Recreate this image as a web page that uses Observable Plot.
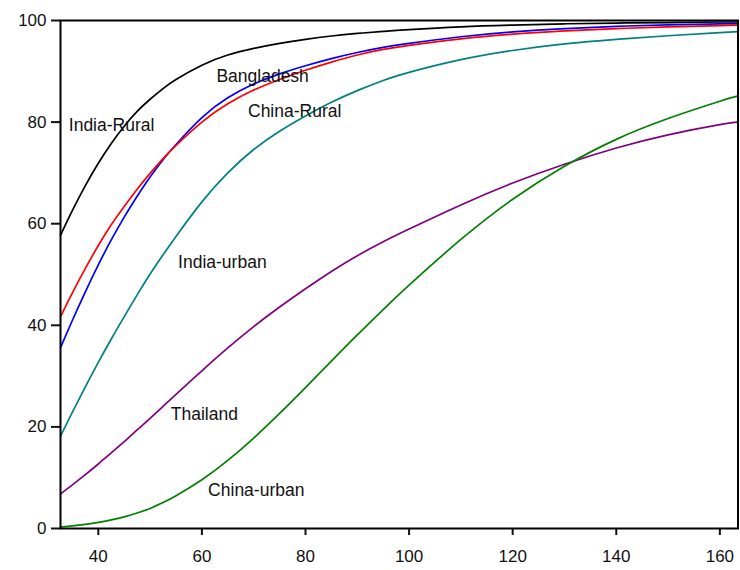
<!DOCTYPE html>
<html>
<head>
<meta charset="utf-8">
<script src="https://cdn.jsdelivr.net/npm/d3@7"></script>
<script src="https://cdn.jsdelivr.net/npm/@observablehq/plot@0.6"></script>
<style>
  body { margin: 0; background: #fff; }
  #chart svg { display: block; }
</style>
</head>
<body>
<div id="chart"></div>
<script>
// Cumulative share (%) against the threshold value, one curve per group
const xValues = [32.7, 35, 37.5, 40, 42.5, 45, 47.5, 50, 52.5, 55, 60, 65, 70, 75, 80, 85, 90, 95, 100, 110, 120, 130, 140, 150, 160, 163.5];

const indiaRural = [57.7, 62.6, 67.5, 71.9, 75.8, 79.2, 82.1, 84.5, 86.6, 88.4, 91.2, 93.2, 94.5, 95.5, 96.3, 96.95, 97.45, 97.85, 98.2, 98.75, 99.1, 99.35, 99.5, 99.6, 99.7, 99.7];
const bangladesh = [35.6, 41.0, 46.6, 51.9, 56.8, 61.3, 65.4, 69.2, 72.6, 75.6, 80.9, 84.8, 87.5, 89.5, 91.1, 92.5, 93.7, 94.7, 95.5, 96.8, 97.75, 98.4, 98.85, 99.15, 99.35, 99.4];
const chinaRural = [41.7, 46.4, 51.2, 55.7, 59.8, 63.4, 66.8, 69.9, 72.8, 75.4, 80.0, 83.6, 86.3, 88.4, 90.2, 91.8, 93.2, 94.3, 95.1, 96.4, 97.3, 97.95, 98.4, 98.75, 99.0, 99.1];
const indiaUrban = [18.2, 22.9, 27.9, 32.7, 37.3, 41.7, 46.0, 50.1, 53.9, 57.5, 64.3, 70.0, 74.6, 78.2, 81.2, 83.9, 86.2, 88.2, 89.8, 92.3, 94.1, 95.4, 96.3, 97.0, 97.6, 97.8];
const thailand   = [6.8, 8.6, 10.6, 12.7, 14.9, 17.1, 19.4, 21.7, 24.05, 26.4, 31.05, 35.55, 39.75, 43.6, 47.2, 50.6, 53.7, 56.45, 58.95, 63.7, 68.0, 71.7, 74.9, 77.5, 79.5, 80.0];
const chinaUrban = [0.3, 0.53, 0.83, 1.2, 1.7, 2.3, 3.05, 3.95, 5.1, 6.45, 9.6, 13.4, 17.8, 22.65, 27.75, 32.95, 38.1, 43.1, 47.9, 56.9, 64.8, 71.3, 76.6, 80.7, 84.1, 85.15];

const seriesNames = ["India-Rural", "Bangladesh", "China-Rural", "India-urban", "Thailand", "China-urban"];
const seriesValues = [indiaRural, bangladesh, chinaRural, indiaUrban, thailand, chinaUrban];

// In-plot curve labels, placed in data coordinates
const labelNames = ["India-Rural", "Bangladesh", "China-Rural", "India-urban", "Thailand", "China-urban"];
const labelX = [34.3, 62.8, 68.9, 55.4, 54.0, 61.2];
const labelY = [79.3, 89.0, 82.2, 52.4, 22.5, 7.6];

const xTicks = [40, 60, 80, 100, 120, 140, 160];
const yTicks = [0, 20, 40, 60, 80, 100];

// Line colour for each group
const strokeFor = {
  "India-Rural": "#000000",
  "Bangladesh": "#0000ff",
  "China-Rural": "#ff0000",
  "India-urban": "#008080",
  "Thailand": "#800080",
  "China-urban": "#008000"
};

const rows = seriesNames.flatMap((name, i) =>
  xValues.map((x, j) => ({series: name, x, y: seriesValues[i][j]}))
);
const labels = labelNames.map((text, i) => ({text, x: labelX[i], y: labelY[i]}));

const font = "'Liberation Sans', Arial, Helvetica, sans-serif";

const chart = Plot.plot({
  width: 740,
  height: 570,
  marginLeft: 60,
  marginRight: 2.5,
  marginTop: 20,
  marginBottom: 42,
  style: {fontFamily: font, fontSize: "17px", color: "#111", background: "#fff", overflow: "visible"},
  x: {domain: [32.7, 163.5]},
  y: {domain: [0, 100]},
  marks: [
    ...seriesNames.map(name =>
      Plot.line(rows.filter(d => d.series === name), {
        x: "x", y: "y", stroke: strokeFor[name], strokeWidth: 1.7, curve: "natural"
      })
    ),
    Plot.text(labels, {
      x: "x", y: "y", text: "text", textAnchor: "start", fontSize: 17.5, fill: "#111"
    }),
    Plot.axisX({ticks: xTicks, tickSize: 7, tickPadding: 14, strokeWidth: 2, label: null, fontSize: 17}),
    Plot.axisY({ticks: yTicks, tickSize: 9, tickPadding: 5, strokeWidth: 2, label: null, fontSize: 17}),
    Plot.frame({stroke: "#000", strokeWidth: 2})
  ]
});

document.getElementById("chart").appendChild(chart);
</script>
</body>
</html>
